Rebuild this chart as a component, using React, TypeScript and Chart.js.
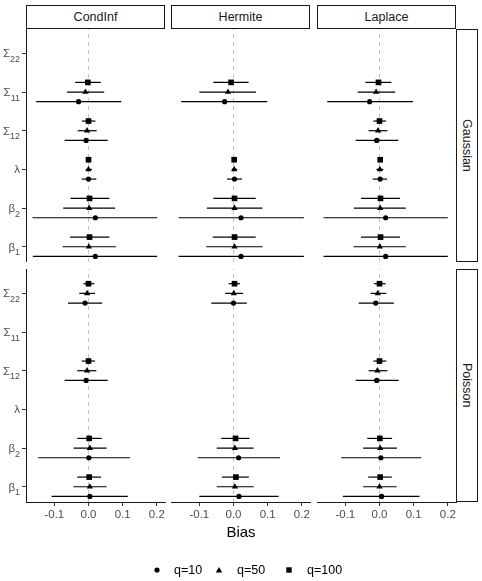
import React, { useEffect, useRef } from 'react';
import { Chart, registerables } from 'chart.js';

Chart.register(...registerables);

// ---------- categories / labels ----------
const METHODS = ['CondInf', 'Hermite', 'Laplace'];
const FAMILIES = ['Gaussian', 'Poisson'];
// parameters from bottom (index 0 -> y = 1) to top
const PARAM_BASE = ['β', 'β', 'λ', 'Σ', 'Σ', 'Σ'];
const PARAM_SUB = ['1', '2', '', '12', '11', '22'];
const X_TICKS = [-0.1, 0.0, 0.1, 0.2];
const Q_LABELS = ['q=10', 'q=50', 'q=100'];

// ---------- values: each row = [estimate, lower, upper] for β1, β2, λ, Σ12, Σ11, Σ22 ----------
type Est = [number, number, number] | null;

const GAUSSIAN_CONDINF_Q10: Est[] = [[0.020, -0.163, 0.201], [0.020, -0.164, 0.201], [0.000, -0.020, 0.023], [-0.007, -0.070, 0.056], [-0.029, -0.153, 0.096], null];
const GAUSSIAN_CONDINF_Q50: Est[] = [[0.001, -0.076, 0.080], [0.002, -0.074, 0.078], [0.000, -0.008, 0.010], [-0.004, -0.032, 0.024], [-0.009, -0.063, 0.046], null];
const GAUSSIAN_CONDINF_Q100: Est[] = [[0.003, -0.054, 0.061], [0.003, -0.053, 0.061], [0.000, -0.002, 0.002], [0.000, -0.019, 0.020], [-0.002, -0.039, 0.036], null];

const GAUSSIAN_HERMITE_Q10: Est[] = [[0.022, -0.161, 0.206], [0.022, -0.161, 0.206], [0.003, -0.019, 0.025], null, [-0.026, -0.153, 0.099], null];
const GAUSSIAN_HERMITE_Q50: Est[] = [[0.003, -0.080, 0.085], [0.003, -0.078, 0.085], [0.002, -0.005, 0.011], null, [-0.016, -0.100, 0.066], null];
const GAUSSIAN_HERMITE_Q100: Est[] = [[0.003, -0.061, 0.065], [0.003, -0.059, 0.065], [0.002, 0.000, 0.004], null, [-0.007, -0.059, 0.044], null];

const GAUSSIAN_LAPLACE_Q10: Est[] = [[0.018, -0.164, 0.200], [0.018, -0.164, 0.200], [0.002, -0.020, 0.022], [-0.008, -0.070, 0.055], [-0.029, -0.153, 0.098], null];
const GAUSSIAN_LAPLACE_Q50: Est[] = [[0.001, -0.076, 0.077], [0.002, -0.075, 0.077], [0.001, -0.009, 0.011], [-0.004, -0.032, 0.023], [-0.010, -0.064, 0.046], null];
const GAUSSIAN_LAPLACE_Q100: Est[] = [[0.003, -0.054, 0.060], [0.003, -0.054, 0.060], [0.002, 0.000, 0.004], [0.000, -0.018, 0.019], [-0.003, -0.041, 0.035], null];

const POISSON_CONDINF_Q10: Est[] = [[0.004, -0.108, 0.115], [0.001, -0.147, 0.121], null, [-0.007, -0.070, 0.056], null, [-0.010, -0.060, 0.040]];
const POISSON_CONDINF_Q50: Est[] = [[0.004, -0.044, 0.053], [0.004, -0.044, 0.053], null, [-0.004, -0.033, 0.023], null, [-0.004, -0.027, 0.019]];
const POISSON_CONDINF_Q100: Est[] = [[0.002, -0.033, 0.037], [0.002, -0.033, 0.039], null, [0.000, -0.020, 0.019], null, [0.000, -0.015, 0.017]];

const POISSON_HERMITE_Q10: Est[] = [[0.016, -0.100, 0.132], [0.015, -0.105, 0.136], null, null, null, [0.000, -0.065, 0.039]];
const POISSON_HERMITE_Q50: Est[] = [[0.004, -0.049, 0.059], [0.004, -0.049, 0.059], null, null, null, [0.001, -0.024, 0.028]];
const POISSON_HERMITE_Q100: Est[] = [[0.007, -0.034, 0.045], [0.006, -0.036, 0.047], null, null, null, [0.003, -0.014, 0.019]];

const POISSON_LAPLACE_Q10: Est[] = [[0.006, -0.107, 0.117], [0.004, -0.112, 0.122], null, [-0.008, -0.070, 0.056], null, [-0.011, -0.061, 0.042]];
const POISSON_LAPLACE_Q50: Est[] = [[0.000, -0.048, 0.050], [0.002, -0.048, 0.051], null, [-0.006, -0.032, 0.023], null, [-0.005, -0.026, 0.020]];
const POISSON_LAPLACE_Q100: Est[] = [[0.002, -0.033, 0.036], [0.001, -0.036, 0.037], null, [0.000, -0.018, 0.020], null, [0.000, -0.016, 0.018]];

const PANEL_SERIES: Est[][][][] = [
  [
    [GAUSSIAN_CONDINF_Q10, GAUSSIAN_CONDINF_Q50, GAUSSIAN_CONDINF_Q100],
    [GAUSSIAN_HERMITE_Q10, GAUSSIAN_HERMITE_Q50, GAUSSIAN_HERMITE_Q100],
    [GAUSSIAN_LAPLACE_Q10, GAUSSIAN_LAPLACE_Q50, GAUSSIAN_LAPLACE_Q100],
  ],
  [
    [POISSON_CONDINF_Q10, POISSON_CONDINF_Q50, POISSON_CONDINF_Q100],
    [POISSON_HERMITE_Q10, POISSON_HERMITE_Q50, POISSON_HERMITE_Q100],
    [POISSON_LAPLACE_Q10, POISSON_LAPLACE_Q50, POISSON_LAPLACE_Q100],
  ],
];

// ---------- layout & style ----------
const FONT = '"Liberation Sans", Arial, Helvetica, sans-serif';
const PANEL_LEFT = [26, 171, 317];
const PANEL_W = 139;
const ROW_TOP = [29, 269];
const PANEL_H = 233;
const Y_AXIS_W = 26;
const X_AXIS_H = 22;
const X_MIN = -0.183;
const X_MAX = 0.224;
const Y_MIN = 0.606;
const Y_MAX = 6.63;
const Q_OFFSET = [-0.25, 0, 0.25];
const Q_STYLE = ['circle', 'triangle', 'rect'];
const Q_RADIUS = [2.6, 3.6, 4.0];

const yLabelPlugin = {
  id: 'subscriptYLabels',
  afterDraw(chart: any) {
    const s = chart.scales.y;
    if (!s) return;
    const ctx = chart.ctx;
    ctx.save();
    ctx.fillStyle = '#4d4d4d';
    ctx.textAlign = 'right';
    ctx.textBaseline = 'alphabetic';
    const baseFont = `11.5px ${FONT}`;
    const subFont = `9px ${FONT}`;
    const right = s.right - 6;
    s.ticks.forEach((t: any) => {
      const i = Math.round(t.value) - 1;
      const y = s.getPixelForValue(t.value);
      const sub = PARAM_SUB[i];
      ctx.font = subFont;
      const sw = sub ? ctx.measureText(sub).width : 0;
      ctx.font = baseFont;
      ctx.fillText(PARAM_BASE[i], right - sw, y + 4);
      if (sub) {
        ctx.font = subFont;
        ctx.fillText(sub, right, y + 8.5);
      }
    });
    ctx.restore();
  },
};

function Panel({ fi, mi }: { fi: number; mi: number }) {
  const ref = useRef<HTMLCanvasElement>(null);
  const isBottom = fi === FAMILIES.length - 1;
  const isLeft = mi === 0;
  const axisW = isLeft ? Y_AXIS_W : 0;
  const padR = isBottom ? 12 : 0;
  const width = axisW + PANEL_W + padR;
  const height = PANEL_H + (isBottom ? X_AXIS_H : 0);
  const left = PANEL_LEFT[mi] - axisW;
  const top = ROW_TOP[fi];

  useEffect(() => {
    const series = PANEL_SERIES[fi][mi];
    const datasets: any[] = [];
    datasets.push({
      data: [{ x: 0, y: Y_MIN }, { x: 0, y: Y_MAX }],
      showLine: true,
      borderColor: '#c4c4c4',
      borderWidth: 1,
      borderDash: [4, 4],
      pointRadius: 0,
      order: 3,
    });
    series.forEach((rows, qi) => {
      rows.forEach((e, pi) => {
        if (!e) return;
        const y = pi + 1 + Q_OFFSET[qi];
        datasets.push({
          data: [{ x: e[1], y }, { x: e[2], y }],
          showLine: true,
          borderColor: '#000',
          borderWidth: 1.2,
          pointRadius: 0,
          order: 2,
        });
      });
    });
    series.forEach((rows, qi) => {
      const pts: any[] = [];
      rows.forEach((e, pi) => {
        if (e) pts.push({ x: e[0], y: pi + 1 + Q_OFFSET[qi] });
      });
      datasets.push({
        label: Q_LABELS[qi],
        data: pts,
        pointStyle: Q_STYLE[qi],
        pointRadius: Q_RADIUS[qi],
        pointBackgroundColor: '#000',
        pointBorderWidth: 0,
        backgroundColor: '#000',
        borderWidth: 0,
        order: 1,
      });
    });

    const xScale: any = {
      type: 'linear',
      min: X_MIN,
      max: X_MAX,
      display: isBottom,
      afterBuildTicks: (s: any) => {
        s.ticks = X_TICKS.map((v) => ({ value: v }));
      },
      grid: { display: true, drawOnChartArea: false, drawTicks: true, tickLength: 4, tickColor: '#333', tickWidth: 1 },
      border: { display: true, color: '#1a1a1a', width: 1 },
      ticks: {
        color: '#4d4d4d',
        font: { family: FONT, size: 11.5 },
        padding: 2,
        maxRotation: 0,
        autoSkip: false,
        callback: (v: any) => Number(v).toFixed(1),
      },
    };
    if (isBottom) {
      xScale.afterFit = (s: any) => {
        s.height = X_AXIS_H;
      };
    }
    const yScale: any = {
      type: 'linear',
      min: Y_MIN,
      max: Y_MAX,
      display: isLeft,
      afterBuildTicks: (s: any) => {
        s.ticks = PARAM_SUB.map((_, i) => ({ value: i + 1 }));
      },
      grid: { display: true, drawOnChartArea: false, drawTicks: true, tickLength: 4, tickColor: '#333', tickWidth: 1 },
      border: { display: true, color: '#1a1a1a', width: 1 },
      ticks: { display: false },
    };
    if (isLeft) {
      yScale.afterFit = (s: any) => {
        s.width = Y_AXIS_W;
      };
    }

    const chart = new Chart(ref.current as HTMLCanvasElement, {
      type: 'scatter',
      data: { datasets },
      options: {
        animation: false,
        responsive: false,
        maintainAspectRatio: false,
        events: [],
        layout: { autoPadding: false, padding: { left: 0, right: padR, top: 0, bottom: 0 } },
        plugins: { legend: { display: false }, tooltip: { enabled: false } },
        scales: { x: xScale, y: yScale },
      } as any,
      plugins: isLeft ? [yLabelPlugin] : [],
    });
    return () => chart.destroy();
  }, []);

  return (
    <canvas
      ref={ref}
      width={width}
      height={height}
      style={{ position: 'absolute', left, top, width, height }}
    />
  );
}

function LegendMarker({ kind }: { kind: number }) {
  return (
    <svg width={8} height={8} style={{ display: 'block' }}>
      {kind === 0 && <circle cx={4} cy={4} r={2.6} fill="#000" />}
      {kind === 1 && <polygon points="4,1 7.2,6.5 0.8,6.5" fill="#000" />}
      {kind === 2 && <rect x={1.3} y={1.3} width={5.4} height={5.4} fill="#000" />}
    </svg>
  );
}

const LEGEND_MARK_X = [157, 219, 289];
const LEGEND_TEXT_X = [174, 237, 307];

export default function App() {
  const stripStyle: React.CSSProperties = {
    position: 'absolute',
    boxSizing: 'border-box',
    border: '1px solid #1a1a1a',
    background: '#fff',
    color: '#1a1a1a',
    fontSize: 12.5,
    display: 'flex',
    alignItems: 'center',
    justifyContent: 'center',
  };
  return (
    <div
      style={{
        position: 'absolute',
        left: 0,
        top: 0,
        width: 482,
        height: 581,
        background: '#fff',
        fontFamily: FONT,
        overflow: 'hidden',
      }}
    >
      {FAMILIES.map((_, fi) =>
        METHODS.map((__, mi) => <Panel key={`${fi}-${mi}`} fi={fi} mi={mi} />)
      )}
      {METHODS.map((m, mi) => (
        <div key={m} style={{ ...stripStyle, left: PANEL_LEFT[mi], top: 5, width: PANEL_W, height: 24 }}>
          {m}
        </div>
      ))}
      {FAMILIES.map((f, fi) => (
        <div
          key={f}
          style={{ ...stripStyle, left: 456, top: ROW_TOP[fi], width: 22, height: PANEL_H }}
        >
          <span style={{ writingMode: 'vertical-rl' }}>{f}</span>
        </div>
      ))}
      <div
        style={{
          position: 'absolute',
          left: 26,
          width: 430,
          top: 524,
          textAlign: 'center',
          fontSize: 15,
          lineHeight: '15px',
          color: '#000',
        }}
      >
        Bias
      </div>
      {Q_LABELS.map((q, qi) => (
        <React.Fragment key={q}>
          <div style={{ position: 'absolute', left: LEGEND_MARK_X[qi] - 4, top: 566 }}>
            <LegendMarker kind={qi} />
          </div>
          <div
            style={{
              position: 'absolute',
              left: LEGEND_TEXT_X[qi],
              top: 563,
              fontSize: 12.5,
              lineHeight: '14px',
              color: '#000',
            }}
          >
            {q}
          </div>
        </React.Fragment>
      ))}
    </div>
  );
}
